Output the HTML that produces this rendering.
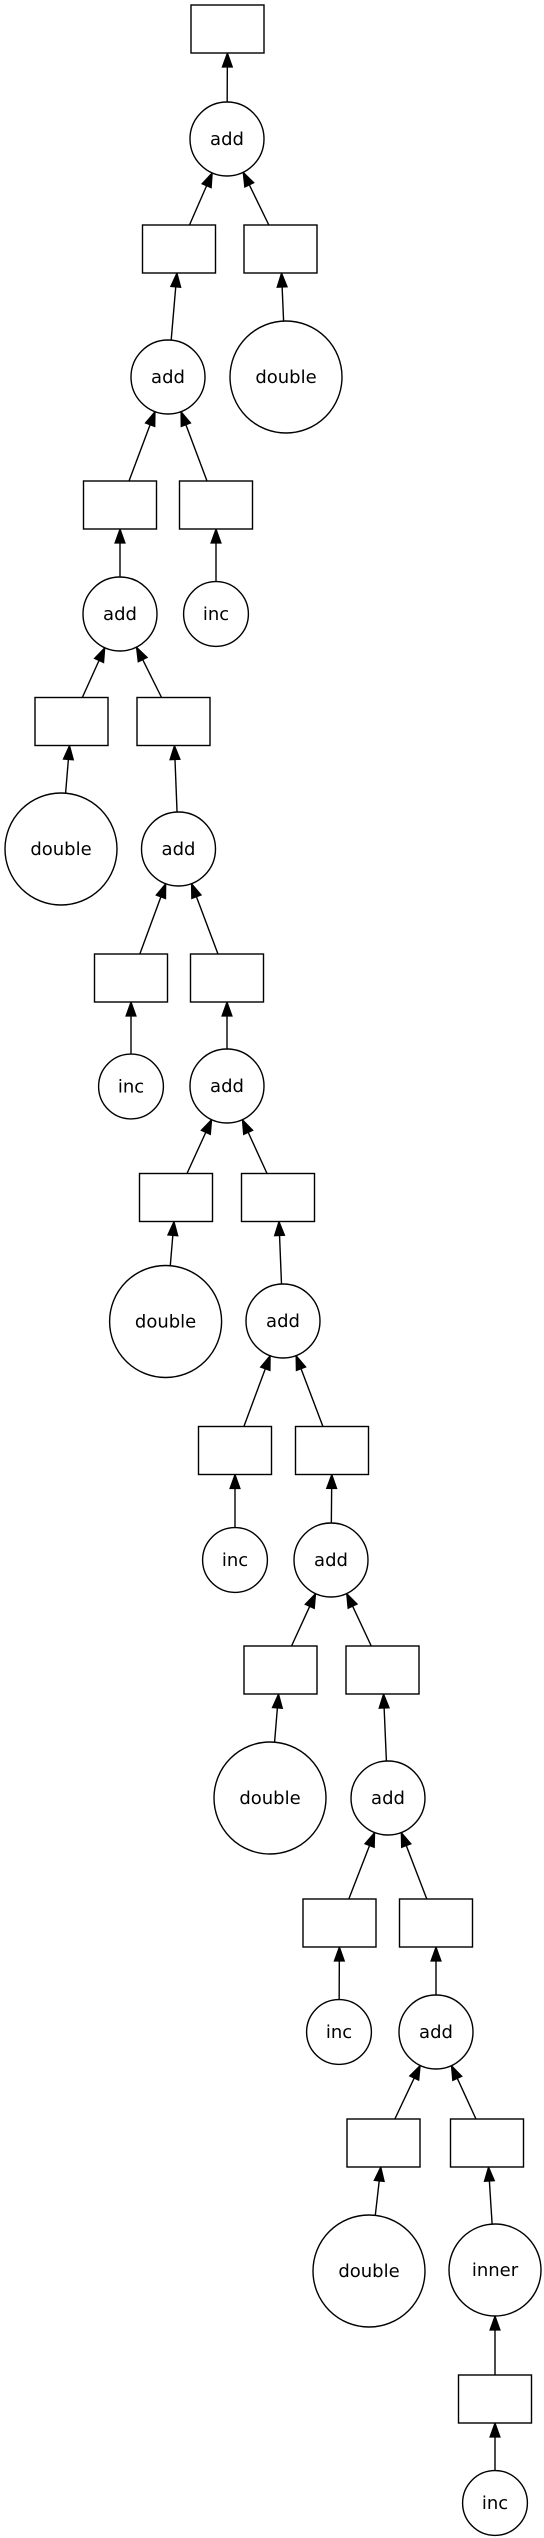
<!DOCTYPE html>
<html><head><meta charset="utf-8"><style>
html,body{margin:0;padding:0;background:#fff;}
svg{display:block;}
text{font-family:"DejaVu Sans","Liberation Sans",sans-serif;font-size:18px;text-anchor:middle;fill:#000;}
</style></head><body>
<svg id="g" width="544" height="2538" viewBox="0 0 544 2538" xmlns="http://www.w3.org/2000/svg"></svg>
<script>
var W=73,H=48;
var N={
T:['b',227.5,29],A:['add',227,139],B1:['b',179,249],B2:['b',280.5,249],
C:['add',168,377],D:['double',286,377],E1:['b',120,505],E2:['b',216,505],
F:['add',120,614],G:['inc',216,614],H1:['b',71.5,721.5],H2:['b',173.5,721.5],
I:['double',61,849],J:['add',178.5,849],K1:['b',131,978],K2:['b',227,978],
L:['inc',131,1086.5],M:['add',227,1086],N1:['b',176,1197.5],N2:['b',278,1197.5],
O:['double',165.6,1321.5],P:['add',283,1321],Q1:['b',235,1450.5],Q2:['b',332,1450.5],
R:['inc',235,1560],S:['add',331,1560],U1:['b',280.5,1670],U2:['b',382.5,1670],
V:['double',270,1798],Wn:['add',388,1798],X1:['b',339.5,1923],X2:['b',436,1923],
Y:['inc',339,2032],Z:['add',436,2032],a1:['b',383.5,2143],a2:['b',487,2143],
bb:['double',369,2271],c:['inner',495,2270],d:['b',495,2399],e:['inc',495,2503]};
var R={add:37,inc:32.4,double:56,inner:46};
var E=[['A','T'],['B1','A'],['B2','A'],['C','B1'],['D','B2'],['E1','C'],['E2','C'],['F','E1'],['G','E2'],
['H1','F'],['H2','F'],['I','H1'],['J','H2'],['K1','J'],['K2','J'],['L','K1'],['M','K2'],['N1','M'],['N2','M'],
['O','N1'],['P','N2'],['Q1','P'],['Q2','P'],['R','Q1'],['S','Q2'],['U1','S'],['U2','S'],['V','U1'],['Wn','U2'],
['X1','Wn'],['X2','Wn'],['Y','X1'],['Z','X2'],['a1','Z'],['a2','Z'],['bb','a1'],['c','a2'],['d','c'],['e','d']];
function clip(n,dx,dy){ // distance from center along unit dir to boundary
  if(n[0]=='b'){var tx=Math.abs(dx)>1e-9?(W/2)/Math.abs(dx):1e9,ty=Math.abs(dy)>1e-9?(H/2)/Math.abs(dy):1e9;return Math.min(tx,ty);}
  return R[n[0]];
}
var s='';
E.forEach(function(p){
  var a=N[p[0]],b=N[p[1]];var dx=b[1]-a[1],dy=b[2]-a[2],L=Math.hypot(dx,dy);dx/=L;dy/=L;
  var ta=clip(a,dx,dy),tb=clip(b,dx,dy);
  var x1=a[1]+dx*ta,y1=a[2]+dy*ta,x2=b[1]-dx*tb,y2=b[2]-dy*tb;
  var al=14,hw=5;var bx=x2-dx*al,by=y2-dy*al;
  s+='<line x1="'+x1+'" y1="'+y1+'" x2="'+bx+'" y2="'+by+'" stroke="#000" stroke-width="1.4"/>';
  s+='<polygon points="'+x2+','+y2+' '+(bx-dy*hw)+','+(by+dx*hw)+' '+(bx+dy*hw)+','+(by-dx*hw)+'" fill="#000" stroke="#000" stroke-width="1.2"/>';
});
for(var k in N){var n=N[k];
  if(n[0]=='b') s+='<rect x="'+(n[1]-W/2)+'" y="'+(n[2]-H/2)+'" width="'+W+'" height="'+H+'" fill="#fff" stroke="#000" stroke-width="1.4"/>';
  else {s+='<circle cx="'+n[1]+'" cy="'+n[2]+'" r="'+R[n[0]]+'" fill="#fff" stroke="#000" stroke-width="1.4"/>';
    s+='<text x="'+n[1]+'" y="'+(n[2]+6)+'">'+n[0]+'</text>';}
}
document.getElementById('g').innerHTML=s;
</script>
</body></html>
